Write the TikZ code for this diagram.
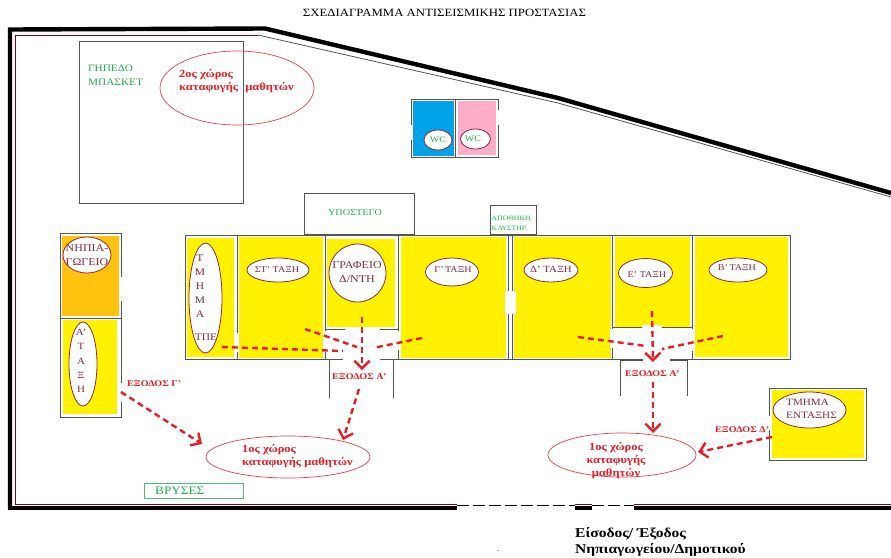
\documentclass[tikz,border=0pt]{standalone}
\usepackage{fontspec}
\setmainfont[FakeStretch=1.15]{Liberation Serif}
\usetikzlibrary{arrows.meta,shapes.geometric}
\definecolor{wallgray}{HTML}{555555}
\definecolor{darkred}{HTML}{880015}
\definecolor{roomred}{HTML}{8E2A3C}
\definecolor{exitred}{HTML}{ED1C24}
\definecolor{plangreen}{HTML}{22B14C}
\definecolor{planyellow}{HTML}{FFF200}
\definecolor{planorange}{HTML}{FFC20E}
\definecolor{planblue}{HTML}{00A2E8}
\definecolor{planpink}{HTML}{FFAEC9}

\begin{document}
\begin{tikzpicture}
[x=1pt,y=-1pt
,wall/.style={draw=wallgray,line width=0.8pt}
,outer/.style={draw=black,line width=4.4pt,line join=miter}
,inner/.style={draw=darkred,line width=0.7pt}
,gap/.style={fill=white}
,oval/.style={ellipse,draw=roomred,line width=0.8pt,fill=white,inner sep=0pt}
,safe/.style={ellipse,draw=exitred!85,line width=0.7pt,inner sep=0pt}
,rtxt/.style={text=roomred,font=\fontsize{8.8}{13.5}\selectfont,align=center,inner sep=0pt}
,gtxt/.style={text=plangreen,font=\fontsize{9.8}{14}\selectfont,align=left,inner sep=0pt}
,stxt/.style={text=exitred,font=\fontsize{10.9}{13}\selectfont\bfseries,align=left,inner sep=0pt}
,xtxt/.style={text=exitred,font=\fontsize{8.8}{11}\selectfont\bfseries,anchor=west,inner sep=0pt}
,be/.style={draw=exitred,line width=2.4pt,dash pattern=on 6pt off 4pt}
,ba/.style={be,arrows={-Straight Barb[scale=1.2]}}]
\useasboundingbox (0,0) rectangle (891,557);
\fill[planyellow] (187,238) rectangle (234,357);
\fill[planyellow] (239,237) rectangle (323,358);
\fill[planyellow] (327,239) rectangle (395,327);
\fill[planyellow] (401,237) rectangle (506,358);
\fill[planyellow] (514,237) rectangle (611,358);
\fill[planyellow] (615,237) rectangle (690,327);
\fill[planyellow] (695,237) rectangle (788,357);
\fill[planorange] (62,236) rectangle (119,316);
\fill[planyellow] (63,320) rectangle (117,414);
\fill[planyellow] (772,390) rectangle (864,458);
\fill[planblue] (413,101) rectangle (454,156);
\fill[planpink] (458,101) rectangle (496,155);
\draw[outer] (10,508) -- (10,29.5) -- (265,28.5) -- (558,98) -- (891,193);
\draw[outer] (8,508) -- (457,508);
\draw[outer] (575,508) -- (592,508);
\draw[outer] (634,508) -- (891,508);
\draw[inner] (15,504) -- (15,35) -- (258,35);
\draw[wallgray,line width=0.8pt] (258,35) -- (558,103) -- (891,197);
\draw[inner] (15,504) -- (457,504);
\draw[inner] (575,504) -- (592,504);
\draw[inner] (634,504) -- (891,504);
\draw[black,line width=0.8pt,dash pattern=on 12pt off 4pt] (457,505) -- (575,505);
\draw[black,line width=0.8pt,dash pattern=on 12pt off 4pt] (592,505) -- (634,505);
\draw[wall] (79,41) rectangle (243,203);
\draw[wall] (411,99) rectangle (498,157);
\draw[wall] (455,99) -- (455,157);
\fill[gap] (409,125) rectangle (413,140);
\fill[gap] (496,110) rectangle (500,125);
\draw[wall] (304,193) rectangle (414,234);
\draw[wall] (490,205) rectangle (536,234);
\draw[wall] (185,235) rectangle (790,359);
\draw[wall] (237,235) -- (237,359);
\draw[wall] (325,235) -- (325,359);
\draw[wall] (398,235) -- (398,359);
\draw[wall] (508,235) -- (508,359);
\draw[wall] (512.5,235) -- (512.5,359);
\draw[wall] (612,235) -- (612,359);
\draw[wall] (692,235) -- (692,359);
\draw[wall] (325,329) -- (398,329);
\draw[wall] (612,327) -- (692,327);
\fill[gap] (234,333) rectangle (239,352);
\fill[gap] (323,331) rectangle (327,352);
\fill[gap] (396,331) rectangle (400,350);
\fill[gap] (505,291) rectangle (516,314);
\fill[gap] (610,329) rectangle (614,348);
\fill[gap] (690,329) rectangle (694,351);
\fill[gap] (343,357) rectangle (380,361);
\fill[gap] (643,357) rectangle (670,361);
\fill[gap] (345,327) rectangle (380,331);
\fill[gap] (642,325) rectangle (662,329);
\draw[wall] (329.5,359) -- (329.5,398);
\draw[wall] (393.5,359) -- (393.5,398);
\draw[wall] (620.5,360) -- (620.5,396);
\draw[wall] (687,360) -- (687,396);
\draw[wall] (620.5,360) -- (643,360);
\draw[wall] (670,360) -- (687,360);
\draw[wall] (60,233) rectangle (121,417);
\draw[wall] (60,318) -- (121,318);
\fill[gap] (119,277) rectangle (123,301);
\fill[gap] (119,383) rectangle (123,402);
\draw[wall] (769,388) rectangle (866,460);
\fill[gap] (767,416) rectangle (771,430);
\draw[plangreen!80,line width=0.9pt] (144,483) rectangle (243,498);
\node[safe,minimum width=154pt,minimum height=74pt] (safe2) at (237,88) {};
\node[safe,fill=white,minimum width=164pt,minimum height=42pt] (safe1) at (288,457) {};
\node[safe,fill=white,minimum width=148pt,minimum height=44pt] (safe3) at (622,455) {};
\node[oval,minimum width=48pt,minimum height=36pt] (o1) at (87,255) {};
\node[oval,minimum width=28pt,minimum height=84pt] (o2) at (83,364) {};
\node[oval,minimum width=33pt,minimum height=110pt] (o3) at (205.5,298) {};
\node[oval,minimum width=62pt,minimum height=24pt] (o4) at (278,270) {};
\node[oval,minimum width=57pt,minimum height=58pt] (o5) at (357.5,273) {};
\node[oval,minimum width=53pt,minimum height=28pt] (o6) at (452,272) {};
\node[oval,minimum width=54pt,minimum height=24pt] (o7) at (551,270) {};
\node[oval,minimum width=54pt,minimum height=29pt] (o8) at (645.5,273) {};
\node[oval,minimum width=58pt,minimum height=24pt] (o9) at (738,270) {};
\node[oval,minimum width=73pt,minimum height=36pt] (o10) at (809.5,410) {};
\node[oval,minimum width=28pt,minimum height=20pt] (o11) at (438,140) {};
\node[oval,minimum width=30pt,minimum height=20pt] (o12) at (475.5,139) {};
\node[font=\fontsize{11.1}{13}\selectfont,inner sep=0pt] (title) at (444.5,13) {ΣΧΕΔΙΑΓΡΑΜΜΑ ΑΝΤΙΣΕΙΣΜΙΚΗΣ ΠΡΟΣΤΑΣΙΑΣ};
\node[gtxt,anchor=west] (court) at (88,75) {ΓΗΠΕΔΟ\\ΜΠΑΣΚΕΤ};
\node[gtxt,font=\fontsize{8.9}{11}\selectfont] (shed) at (355,213) {ΥΠΟΣΤΕΓΟ};
\node[gtxt,font=\fontsize{6.7}{10}\selectfont,anchor=west] (store) at (491.5,223) {ΑΠΟΘΗΚΗ\\ΚΑΥΣΤΗΡ.};
\node[gtxt,font=\fontsize{8.7}{11}\selectfont] (wc1) at (438,140) {WC};
\node[gtxt,font=\fontsize{8.7}{11}\selectfont] (wc2) at (473,138.5) {WC};
\node[gtxt,font=\fontsize{11.5}{13}\selectfont,anchor=west] (taps) at (155,490.5) {ΒΡΥΣΕΣ};
\node[rtxt,font=\fontsize{10.4}{13.5}\selectfont] (t1) at (87,255) {ΝΗΠΙΑ-\\ΓΩΓΕΙΟ};
\node[rtxt,font=\fontsize{9.5}{14.4}\selectfont] (t2) at (81,361) {Α'\\Τ\\Α\\Ξ\\Η};
\node[rtxt,font=\fontsize{10}{14}\selectfont] (t3) at (200,286) {Τ\\Μ\\Η\\Μ\\Α};
\node[rtxt,font=\fontsize{10}{14}\selectfont] (t3b) at (206,337) {ΤΠΕ};
\node[rtxt] (t4) at (277,270) {ΣΤ' ΤΑΞΗ};
\node[rtxt,font=\fontsize{10.4}{14}\selectfont] (t5) at (357,272) {ΓΡΑΦΕΙΟ\\Δ/ΝΤΗ};
\node[rtxt] (t6) at (453,270) {Γ'\,ΤΑΞΗ};
\node[rtxt,font=\fontsize{9.4}{12}\selectfont] (t7) at (551,269) {Δ' ΤΑΞΗ};
\node[rtxt] (t8) at (647,275) {Ε' ΤΑΞΗ};
\node[rtxt] (t9) at (737,268) {Β'\,ΤΑΞΗ};
\node[rtxt,anchor=west,align=left,font=\fontsize{9.7}{13.5}\selectfont] (t10) at (786,409) {ΤΜΗΜΑ\\ΕΝΤΑΞΗΣ};
\node[stxt,anchor=west] (s2) at (179,81) {2ος χώρος\\καταφυγής\hspace{4pt} μαθητών};
\node[stxt,anchor=west] (s1) at (242,456) {1ος χώρος\\καταφυγής μαθητών};
\node[stxt,align=center] (s3) at (616,460.5) {1ος χώρος\\καταφυγής\\μαθητών};
\node[xtxt] (exitG) at (127,384) {ΕΞΟΔΟΣ Γ'};
\node[xtxt] (exitA) at (332,377) {ΕΞΟΔΟΣ Α'};
\node[xtxt] (exitB) at (625,374) {ΕΞΟΔΟΣ Α'};
\node[xtxt] (exitD) at (715,430) {ΕΞΟΔΟΣ Δ'};
\node[font=\fontsize{13.5}{16}\selectfont\bfseries,align=left,anchor=west,inner sep=0pt] (gate) at (575,542) {Είσοδος/ Έξοδος\\Νηπιαγωγείου/Δημοτικού};
\node[font=\fontsize{7}{8}\selectfont,inner sep=0pt] (dot) at (498,551) {.};
\coordinate (a1) at (222,347);
\coordinate (a2) at (343,351);
\coordinate (a3) at (305,329);
\coordinate (a4) at (357,347);
\coordinate (a5) at (422,338);
\coordinate (a6) at (373,348);
\coordinate (a7) at (362,317);
\coordinate (a8) at (362,370);
\coordinate (b1) at (578,337);
\coordinate (b2) at (646,346);
\coordinate (b3) at (723,336);
\coordinate (b4) at (662,349);
\coordinate (b5) at (652,311);
\coordinate (b6) at (653,362);
\coordinate (c1) at (359,389);
\coordinate (c2) at (343,440);
\coordinate (c3) at (653,382);
\coordinate (c4) at (653,433);
\coordinate (c5) at (772,437);
\coordinate (c6) at (698,452);
\coordinate (c7) at (121,392);
\coordinate (c8) at (202,444);
\draw[be] (a1) -- (a2);
\draw[be] (a3) -- (a4);
\draw[be] (a5) -- (a6);
\draw[ba] (a7) -- (a8);
\draw[be] (b1) -- (b2);
\draw[be] (b3) -- (b4);
\draw[ba] (b5) -- (b6);
\draw[ba] (c1) -- (c2);
\draw[ba] (c3) -- (c4);
\draw[ba] (c5) -- (c6);
\draw[ba] (c7) -- (c8);
\end{tikzpicture}
\end{document}
